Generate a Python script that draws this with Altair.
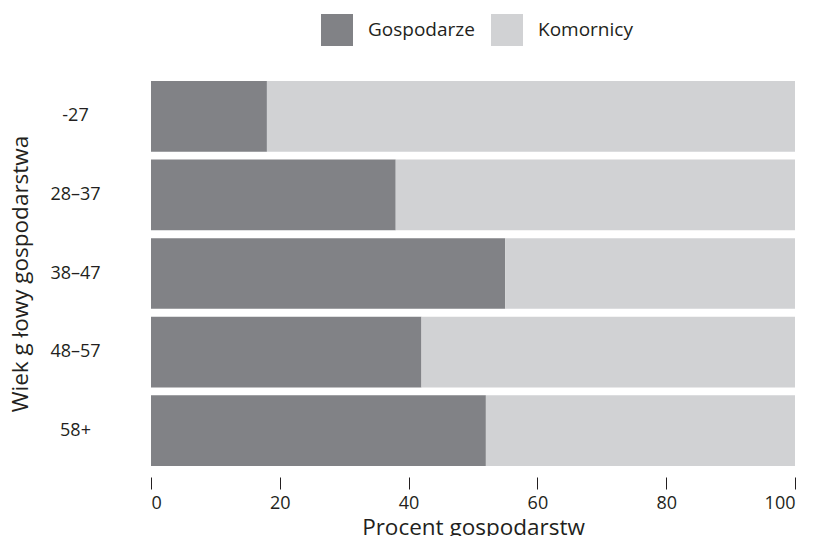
import altair as alt
import pandas as pd

age_groups = ["-27", "28–37", "38–47", "48–57", "58+"]
gospodarze = [18, 38, 55, 42, 52]
komornicy = [100 - g for g in gospodarze]
series = ["Gospodarze", "Komornicy"]
colors = ["#818286", "#d1d2d4"]
x_ticks = [0, 20, 40, 60, 80, 100]

rows = []
for a, g, k in zip(age_groups, gospodarze, komornicy):
    rows.append({"wiek": a, "grupa": series[0], "procent": g, "ord": 0})
    rows.append({"wiek": a, "grupa": series[1], "procent": k, "ord": 1})
df = pd.DataFrame(rows)

FONT = "Open Sans"
TXT = "#231f20"

chart = alt.Chart(df).mark_bar(strokeWidth=0).encode(
    y=alt.Y("wiek:N", sort=age_groups,
            scale=alt.Scale(paddingInner=0.1, paddingOuter=0),
            axis=alt.Axis(title="Wiek g łowy gospodarstwa", domain=False, ticks=False,
                          tickSize=0, labelPadding=76, labelAlign="center",
                          labelFontSize=18, labelFont=FONT, labelColor=TXT,
                          titleFontSize=22.5, titleFont=FONT, titleFontWeight="normal",
                          titleColor=TXT, titleAngle=-90, titleBaseline="alphabetic",
                          titleAlign="center", titleX=-124, titleY=192.5)),
    x=alt.X("procent:Q", stack="zero",
            scale=alt.Scale(domain=[0, 100], nice=False),
            axis=alt.Axis(title="Procent gospodarstw", values=x_ticks, grid=False,
                          domain=False, offset=11, tickSize=12, tickColor=TXT,
                          tickWidth=1, labelPadding=5, labelFontSize=18,
                          labelFont=FONT, labelColor=TXT, titleFontSize=22.5,
                          titleFont=FONT, titleFontWeight="normal", titleColor=TXT,
                          titleBaseline="alphabetic", titleY=57)),
    color=alt.Color("grupa:N", sort=series,
                    scale=alt.Scale(domain=series, range=colors),
                    legend=alt.Legend(title=None, orient="none", legendX=170, legendY=-67,
                                      direction="horizontal", symbolType="square",
                                      symbolSize=1024, symbolStrokeWidth=0,
                                      labelFontSize=19, labelFont=FONT, labelColor=TXT,
                                      labelOffset=15, columnPadding=16, padding=0)),
    order=alt.Order("ord:Q"),
).properties(
    width=644, height=385,
    autosize=alt.AutoSizeParams(type="none"),
    padding={"left": 143, "top": 73, "right": 10, "bottom": 70},
).configure_view(stroke=None)

chart.save("out.html", embed_options={"renderer": "svg", "actions": False})
